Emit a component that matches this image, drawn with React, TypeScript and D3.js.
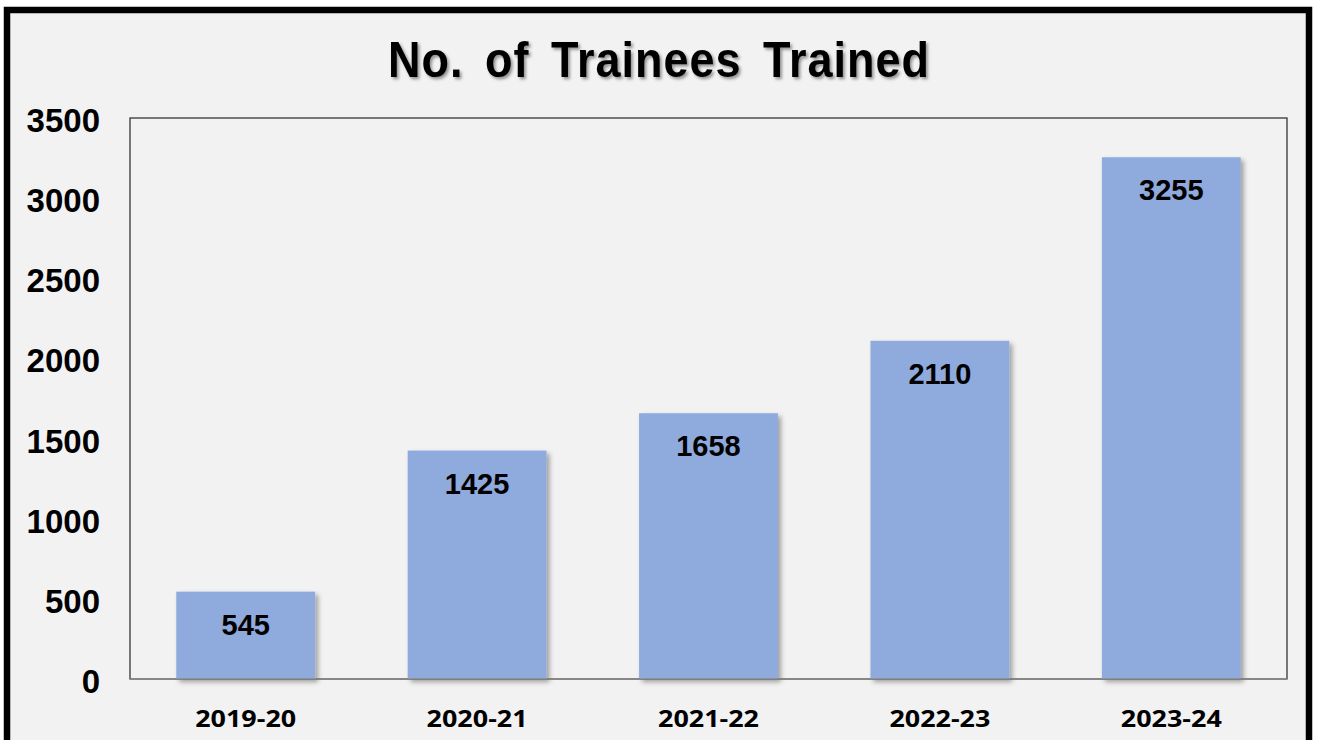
import React from "react";
import * as d3 from "d3";

const categories = ["2019-20", "2020-21", "2021-22", "2022-23", "2023-24"];
const values = [545, 1425, 1658, 2110, 3255];
const yTicks = [0, 500, 1000, 1500, 2000, 2500, 3000, 3500];
const title = "No. of Trainees Trained";

export default function App() {
  const W = 1317;
  const H = 740;
  const plot = { left: 130, top: 118, right: 1287, bottom: 679 };

  const x = d3
    .scaleBand<string>()
    .domain(categories)
    .range([plot.left, plot.right])
    .paddingInner(0.4)
    .paddingOuter(0.2);
  const y = d3.scaleLinear().domain([0, 3500]).range([plot.bottom, plot.top]);

  return (
    <svg
      width={W}
      height={H}
      style={{ position: "absolute", left: 0, top: 0, display: "block" }}
    >
      <defs>
        <filter id="barShadow" x="-20%" y="-20%" width="140%" height="140%">
          <feDropShadow dx="3" dy="3" stdDeviation="2.5" floodColor="#000" floodOpacity="0.35" />
        </filter>
        <filter id="textShadow" x="-10%" y="-30%" width="120%" height="160%">
          <feDropShadow dx="2" dy="2" stdDeviation="1.5" floodColor="#000" floodOpacity="0.4" />
        </filter>
      </defs>
      <rect x={0} y={0} width={W} height={H} fill="#ffffff" />
      <rect x={7} y={10} width={1302} height={780} fill="#f2f2f2" stroke="#000" strokeWidth={6.5} />

      <g transform="translate(659,77) scale(1,1.12)">
        <text
          x={0}
          y={0}
          textAnchor="middle"
          fontFamily="'Liberation Sans', Arial, sans-serif"
          fontWeight="bold"
          fontSize={45}
          letterSpacing={1}
          wordSpacing={8}
          fill="#000"
          filter="url(#textShadow)"
        >
          {title}
        </text>
      </g>

      {/* plot area */}
      <rect
        x={plot.left}
        y={plot.top}
        width={plot.right - plot.left}
        height={plot.bottom - plot.top}
        fill="#f2f2f2"
        stroke="#262626"
        strokeWidth={1.2}
      />

      {/* bars */}
      {values.map((v, i) => (
        <rect
          key={categories[i]}
          x={x(categories[i])}
          y={y(v)}
          width={x.bandwidth()}
          height={y(0) - y(v)}
          fill="#8faadc"
          filter="url(#barShadow)"
        />
      ))}

      {/* x axis line */}
      <line x1={plot.left} x2={plot.right} y1={plot.bottom} y2={plot.bottom} stroke="#8c8c8c" strokeWidth={1.5} />

      {/* value labels */}
      {values.map((v, i) => (
        <text
          key={"v" + i}
          x={(x(categories[i]) as number) + x.bandwidth() / 2}
          y={y(v) + 43}
          textAnchor="middle"
          fontFamily="'Liberation Sans', Arial, sans-serif"
          fontWeight="bold"
          fontSize={29}
          fill="#000"
        >
          {v}
        </text>
      ))}

      {/* y tick labels */}
      {yTicks.map((t) => (
        <text
          key={"y" + t}
          x={100}
          y={y(t) + 14}
          textAnchor="end"
          fontFamily="'Liberation Sans', Arial, sans-serif"
          fontWeight="bold"
          fontSize={33}
          fill="#000"
        >
          {t}
        </text>
      ))}

      {/* x labels */}
      {categories.map((c) => (
        <text
          key={"x" + c}
          x={(x(c) as number) + x.bandwidth() / 2}
          y={727}
          textAnchor="middle"
          fontFamily="'Open Sans', 'Liberation Sans', sans-serif"
          fontWeight="bold"
          fontSize={24}
          textLength={101}
          lengthAdjust="spacingAndGlyphs"
          fill="#000"
        >
          {c}
        </text>
      ))}
    </svg>
  );
}
